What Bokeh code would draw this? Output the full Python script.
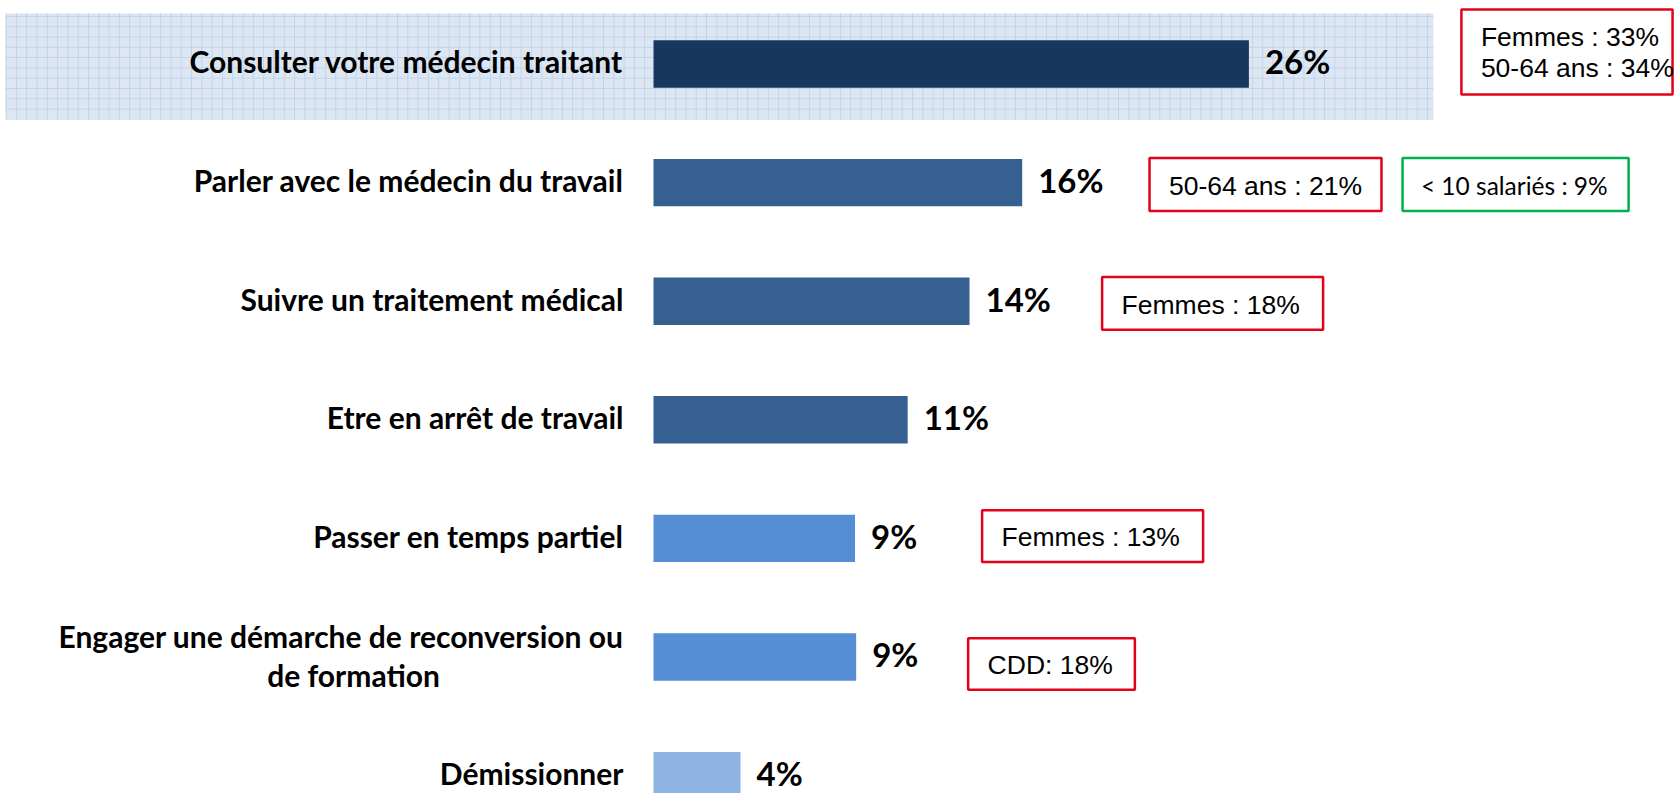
from bokeh.plotting import figure
from bokeh.models import Range1d, ColumnDataSource
from bokeh.core.properties import value
from bokeh.embed import file_html
from bokeh.resources import INLINE

# ---- data ----
categories = [
    "Consulter votre médecin traitant",
    "Parler avec le médecin du travail",
    "Suivre un traitement médical",
    "Etre en arrêt de travail",
    "Passer en temps partiel",
    "Engager une démarche de reconversion ou\nde formation",
    "Démissionner",
]
values = [26.0, 16.1, 13.8, 11.1, 8.8, 8.85, 3.8]
value_labels = ["26%", "16%", "14%", "11%", "9%", "9%", "4%"]
bar_colors = ["#17375E", "#376092", "#376092", "#376092", "#558ED5", "#558ED5", "#8EB4E3"]

notes_text = [["Femmes : 33%", "50-64 ans : 34%"], ["50-64 ans : 21%"], ["< 10 salariés : 9%"],
              ["Femmes : 18%"], ["Femmes : 13%"], ["CDD: 18%"]]
notes_row = [0, 1, 1, 2, 4, 5]

# ---- layout ----
W, H = 1676, 793
PX_PCT = 22.9
PX_ROW = 118.6
X0 = 653.0   # px of 0%
Y0 = 63.5    # px of row 0 centre
TXT_DY = -0.022

p = figure(width=W, height=H, output_backend="svg", toolbar_location=None,
           x_range=Range1d(-X0 / PX_PCT, (W - X0) / PX_PCT),
           y_range=Range1d((H - Y0) / PX_ROW, -Y0 / PX_ROW),
           min_border=0, outline_line_color=None, background_fill_color="white")
p.axis.visible = False
p.grid.visible = False

# highlight band behind first row
p.quad(left=-28.3, right=34.06, top=-0.426, bottom=0.468,
       fill_color="#DDE7F3", line_color=None,
       hatch_pattern="+", hatch_color="#C2D3EA", hatch_scale=10.3, hatch_weight=1.0)

rows = list(range(len(categories)))
src = ColumnDataSource(dict(y=rows, ty=[r + TXT_DY for r in rows], v=values, lab=value_labels,
                            c=bar_colors, lx=[v + 0.7 for v in values]))
p.hbar(y="y", left=0, right="v", height=0.4, fill_color="c", line_color=None, source=src)
p.text(x="lx", y="ty", text="lab", source=src, text_font=value("Lato"), text_font_style="bold",
       text_font_size="33px", text_color="black", text_align="left", text_baseline="middle")

# category labels
cat_font = value("Lato")
single = [(c, r) for r, c in enumerate(categories) if "\n" not in c]
p.text(x=[-1.31] * len(single), y=[r + TXT_DY for _, r in single], text=[c for c, _ in single],
       text_font=cat_font, text_font_style="bold", text_font_size="30px", text_color="black",
       text_align="right", text_baseline="middle")
for r, c in enumerate(categories):
    if "\n" in c:
        l1, l2 = c.split("\n")
        p.text(x=[-1.31], y=[r - 0.175], text=[l1], text_font=cat_font, text_font_style="bold",
               text_font_size="30px", text_color="black", text_align="right", text_baseline="middle")
        p.text(x=[-13.1], y=[r + 0.15], text=[l2], text_font=cat_font, text_font_style="bold",
               text_font_size="30px", text_color="black", text_align="center", text_baseline="middle")

# annotation boxes
box_left = [35.28, 21.66, 32.71, 19.59, 14.35, 13.74]
box_right = [44.5, 31.79, 42.58, 29.24, 24.0, 21.02]
box_top = [-0.46, -0.207, -0.207, -0.204, -0.238, -0.159]
box_bot = [0.257, 0.24, 0.24, 0.24, 0.20, 0.276]
box_col = ["#E2001A", "#E2001A", "#00B050", "#E2001A", "#E2001A", "#E2001A"]
for i, lines in enumerate(notes_text):
    r = notes_row[i]
    p.quad(left=box_left[i], right=box_right[i], top=r + box_top[i], bottom=r + box_bot[i],
           fill_color="white", line_color=box_col[i], line_width=2.5)
    green = box_col[i] == "#00B050"
    font = value("Lato") if green else value("Liberation Sans")
    size = "24.5px" if green else "26.5px"
    tx = box_left[i] + (0.8 if green else 0.85)
    if len(lines) == 1:
        p.text(x=[tx], y=[r + (box_top[i] + box_bot[i]) / 2 + 0.01], text=lines, text_font=font,
               text_font_size=size, text_color="black", text_align="left", text_baseline="middle")
    else:
        p.text(x=[tx, tx], y=[r - 0.225, r + 0.03], text=lines, text_font=font,
               text_font_size=size, text_color="black", text_align="left", text_baseline="middle")

open("out.html", "w").write(file_html(p, INLINE))
